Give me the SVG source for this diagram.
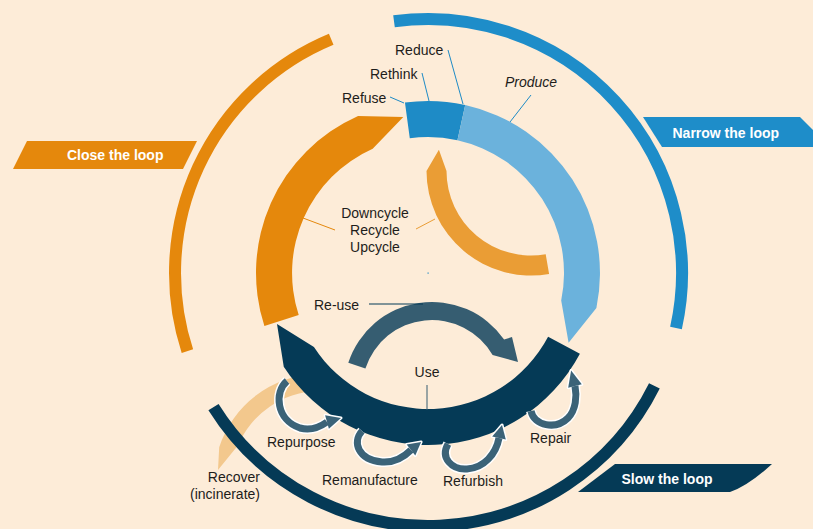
<svg xmlns="http://www.w3.org/2000/svg" width="813" height="529" viewBox="0 0 813 529">
  <defs>
    <style>
      .lbl { font-family: "Liberation Sans", Arial, sans-serif; font-size: 14px; fill: #1d1d1b; }
      .ban { font-family: "Liberation Sans", Arial, sans-serif; font-size: 14px; font-weight: bold; fill: #ffffff; }
      .lead { fill: none; stroke-width: 1; }
      .loop-w { fill: none; stroke: #ffffff; stroke-width: 10; }
      .loop-c { fill: none; stroke: #3b6378; stroke-width: 7; }
      .head-w { fill: #ffffff; stroke: #ffffff; stroke-width: 3; stroke-linejoin: round; }
      .head-c { fill: #3b6378; }
      .arc { fill: none; stroke-width: 12; }
    </style>
  </defs>

  <rect width="813" height="529" fill="#fdecd8"/>

  <!-- energy recovery band, partly hidden under the use ring -->
  <g id="recover">
    <path d="M316.3,374.1 A106,106 0 0 0 219.2,447.2 L218,470 L238.1,445.2 A89,89 0 0 1 316.9,391.1 Z" fill="#f3c88d"/>
  </g>

  <!-- outer loop arcs -->
  <g id="outer-arcs">
    <path class="arc" d="M187.4,351.2 A253,253 0 0 1 331.2,39.3" stroke="#e5880c" stroke-width="11"/>
    <path class="arc" d="M394,21.3 A254,254 0 0 1 676,328" stroke="#1e8dc9"/>
    <path class="arc" d="M654.4,385.9 A253,253 0 0 1 213.5,407.1" stroke="#053a56"/>
  </g>

  <!-- loop banners -->
  <g id="banner-close">
    <polygon points="27,141 197,141 183,169 13,169" fill="#e5880c"/>
    <text class="ban" x="67" y="159.5">Close the loop</text>
  </g>
  <g id="banner-narrow">
    <polygon points="643,117 800,117 830,147 662,147" fill="#1e8dc9"/>
    <text class="ban" x="672.5" y="137.5">Narrow the loop</text>
  </g>
  <g id="banner-slow">
    <path d="M615,464 L772,464 Q748,486 730,492 L578,492 Z" fill="#053a56"/>
    <text class="ban" x="621.5" y="483.5">Slow the loop</text>
  </g>

  <!-- main ring -->
  <g id="ring-recycle">
    <path d="M264.4,326.1 A172,172 0 0 1 358.05,115.9 L403.3,116.9 L372.7,148.8 A136,136 0 0 0 298.7,315.0 Z" fill="#e5880c"/>
  </g>
  <g id="ring-refuse">
    <path d="M404.95,102.55 A172,172 0 0 1 465.22,105.08 L457.43,140.22 A136,136 0 0 0 409.78,138.22 Z" fill="#1e8bc6"/>
  </g>
  <g id="ring-produce">
    <path d="M465.22,105.08 A172,172 0 0 1 596.4,307.9 L568.6,342.8 L561.2,300.6 A136,136 0 0 0 457.43,140.22 Z" fill="#6bb2dc"/>
  </g>
  <g id="ring-use">
    <path d="M579.9,353.75 A172,172 0 0 1 283.75,366.67 L277,324 L313.94,347.07 A136,136 0 0 0 548.1,336.85 Z" fill="#053a56"/>
  </g>

  <!-- inner loops -->
  <g id="inner-recycle">
    <path d="M549.1,273.9 A104.5,104.5 0 0 1 426.5,171 L438.9,149.7 L446.5,171 A84.5,84.5 0 0 0 545.7,254.2 Z" fill="#ea9d35"/>
  </g>
  <g id="inner-reuse">
    <path d="M348.3,362.8 A88,88 0 0 1 504.1,339.5 L512,337 L518,362 L492.6,355 A70,70 0 0 0 365.4,368.4 Z" fill="#365d71"/>
  </g>

  <!-- small loops back into use -->
  <g id="loop-repurpose">
    <path class="loop-w" d="M287,381 C274,392 276,420 300,428 C311,431 320,427 327,422"/>
    <polygon class="head-w" points="341,418 328.9,428.7 325.1,415.3"/>
    <path class="loop-c" d="M287,381 C274,392 276,420 300,428 C311,431 320,427 327,422"/>
    <polygon class="head-c" points="341,418 328.9,428.7 325.1,415.3"/>
  </g>
  <g id="loop-remanufacture">
    <path class="loop-w" d="M362,431 C352,442 358,460 382,462 C396,463 405,456 411,450"/>
    <polygon class="head-w" points="421.1,441.9 415.3,455.5 406.7,444.5"/>
    <path class="loop-c" d="M362,431 C352,442 358,460 382,462 C396,463 405,456 411,450"/>
    <polygon class="head-c" points="421.1,441.9 415.3,455.5 406.7,444.5"/>
  </g>
  <g id="loop-refurbish">
    <path class="loop-w" d="M448,444 C440,458 452,470 467,469 C484,468 496,454 499,438"/>
    <polygon class="head-w" points="502,425 505.8,439.6 492.2,436.4"/>
    <path class="loop-c" d="M448,444 C440,458 452,470 467,469 C484,468 496,454 499,438"/>
    <polygon class="head-c" points="502,425 505.8,439.6 492.2,436.4"/>
  </g>
  <g id="loop-repair">
    <path class="loop-w" d="M531,411 C534,426 556,430 568,418 C576,410 577,396 575,386"/>
    <polygon class="head-w" points="571.1,370.5 581.8,384.3 568.2,387.7"/>
    <path class="loop-c" d="M531,411 C534,426 556,430 568,418 C576,410 577,396 575,386"/>
    <polygon class="head-c" points="571.1,370.5 581.8,384.3 568.2,387.7"/>
  </g>

  <!-- leader lines -->
  <g id="connectors">
    <line class="lead" x1="390" y1="97" x2="404" y2="103" stroke="#1e8bc6"/>
    <line class="lead" x1="422" y1="73" x2="429" y2="101" stroke="#1e8bc6"/>
    <line class="lead" x1="448" y1="50" x2="463" y2="104" stroke="#1e8bc6"/>
    <line class="lead" x1="531" y1="95" x2="510" y2="122" stroke="#1e8bc6"/>
    <line class="lead" x1="303" y1="218" x2="335" y2="230" stroke="#e5880c"/>
    <line class="lead" x1="416" y1="229" x2="435" y2="219" stroke="#ea9d35"/>
    <line class="lead" x1="369" y1="304" x2="423" y2="304" stroke="#053a56" stroke-width="1.5"/>
    <line class="lead" x1="427" y1="385" x2="427" y2="410" stroke="#365d71" stroke-width="1.5"/>
    <rect x="427.5" y="272.5" width="1.2" height="1.2" fill="#1e8bc6"/>
  </g>

  <!-- labels -->
  <g id="labels">
    <text class="lbl" x="395" y="55">Reduce</text>
    <text class="lbl" x="370" y="79">Rethink</text>
    <text class="lbl" x="342" y="103">Refuse</text>
    <text class="lbl" x="505" y="87" font-style="italic">Produce</text>
    <text class="lbl" x="375" y="217.5" text-anchor="middle">Downcycle</text>
    <text class="lbl" x="375" y="234.5" text-anchor="middle">Recycle</text>
    <text class="lbl" x="375" y="251.5" text-anchor="middle">Upcycle</text>
    <text class="lbl" x="314" y="309.5">Re-use</text>
    <text class="lbl" x="427" y="377" text-anchor="middle">Use</text>
    <text class="lbl" x="267" y="446.5">Repurpose</text>
    <text class="lbl" x="322" y="484.5">Remanufacture</text>
    <text class="lbl" x="443" y="485.5">Refurbish</text>
    <text class="lbl" x="530" y="443">Repair</text>
    <text class="lbl" x="260" y="482" text-anchor="end">Recover</text>
    <text class="lbl" x="260" y="498.5" text-anchor="end">(incinerate)</text>
  </g>
</svg>
